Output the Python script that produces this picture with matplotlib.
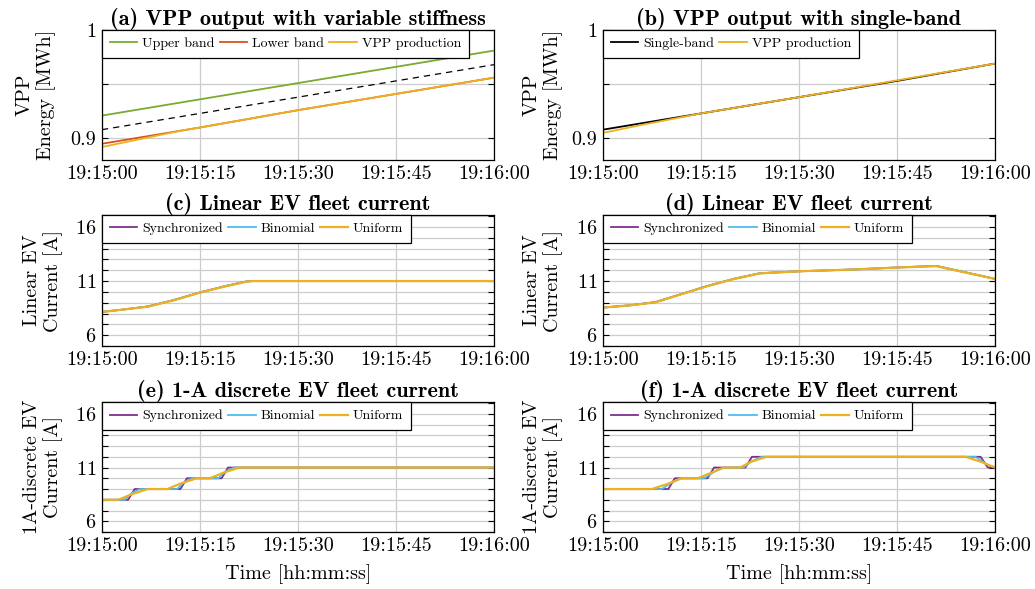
import matplotlib
matplotlib.use("Agg")
import matplotlib.pyplot as plt
from matplotlib.ticker import MultipleLocator

plt.rcParams['font.family'] = 'serif'
plt.rcParams['font.serif'] = ['cmr10']
plt.rcParams['mathtext.fontset'] = 'cm'
plt.rcParams['axes.unicode_minus'] = False
plt.rcParams['axes.formatter.use_mathtext'] = True

# colours (MATLAB default palette)
C_GREEN = '#77AC30'
C_RED = '#D95319'
C_ORANGE = '#EDB120'
C_PURPLE = '#7E2F8E'
C_BLUE = '#4DBEEE'

# time axis: seconds after 19:15:00
time_ticks = [0, 15, 30, 45, 60]
time_labels = ['19:15:00', '19:15:15', '19:15:30', '19:15:45', '19:16:00']

# ---- (a) variable stiffness bands [MWh]
t_vpp = [0, 15, 30, 45, 60]
upper_band = [0.921, 0.936, 0.951, 0.966, 0.981]
reference_a = [0.908, 0.923, 0.938, 0.953, 0.968]
lower_band = [0.895, 0.910, 0.926, 0.941, 0.956]
t_vpp_a = [0, 6, 12, 15, 30, 45, 60]
vpp_a = [0.892, 0.8995, 0.907, 0.910, 0.926, 0.941, 0.956]

# ---- (b) single band [MWh]
single_band = [0.908, 0.923, 0.938, 0.953, 0.969]
t_vpp_b = [0, 6, 12, 15, 30, 45, 60]
vpp_b = [0.905, 0.9125, 0.9195, 0.923, 0.938, 0.9535, 0.969]

# ---- (c) linear EV fleet current [A]
t_lin_c = [0, 3, 7, 11, 15, 19, 22, 23, 60]
sync_c = [8.15, 8.35, 8.65, 9.25, 9.95, 10.55, 10.95, 11.0, 11.0]
binom_c = [8.15, 8.35, 8.65, 9.25, 9.95, 10.55, 10.95, 11.0, 11.0]
unif_c = [8.15, 8.35, 8.63, 9.22, 9.93, 10.52, 10.92, 11.0, 11.0]

# ---- (d) linear EV fleet current [A]
t_lin_d = [0, 4, 8, 12, 16, 20, 24, 30, 38, 45, 51, 60]
sync_d = [8.55, 8.75, 9.05, 9.8, 10.55, 11.2, 11.72, 11.9, 12.06, 12.25, 12.4, 11.2]
binom_d = [8.55, 8.75, 9.05, 9.8, 10.55, 11.2, 11.72, 11.9, 12.06, 12.25, 12.4, 11.2]
unif_d = [8.55, 8.75, 9.03, 9.78, 10.53, 11.18, 11.7, 11.9, 12.06, 12.25, 12.37, 11.2]

# ---- (e) 1-A discrete EV fleet current [A]
t_sync_e = [0, 4, 5, 12, 13, 18.3, 19.3, 60]
sync_e = [8, 8, 9, 9, 10, 10, 11, 11]
t_binom_e = [0, 3.5, 4.5, 5.8, 11.5, 12.5, 13.8, 17.8, 18.8, 20.2, 60]
binom_e = [8, 8, 8.6, 9, 9, 9.6, 10, 10, 10.6, 11, 11]
t_unif_e = [0, 2.5, 4.5, 7, 10, 12, 14.5, 16.5, 18.5, 21, 60]
unif_e = [8, 8, 8.5, 9, 9, 9.5, 10, 10, 10.5, 11, 11]

# ---- (f) 1-A discrete EV fleet current [A]
t_sync_f = [0, 10, 11, 16, 17, 21.8, 22.8, 57.8, 58.9, 60]
sync_f = [9, 9, 10, 10, 11, 11, 12, 12, 11, 11]
t_binom_f = [0, 9, 10.5, 12, 15.5, 17, 18.5, 21.5, 22.8, 24.3, 57, 59, 60]
binom_f = [9, 9, 9.6, 10, 10, 10.6, 11, 11, 11.6, 12, 12, 11.2, 11]
t_unif_f = [0, 7.5, 10, 12, 14.5, 16.5, 18.5, 21, 22.5, 25, 55.5, 58, 60]
unif_f = [9, 9, 9.5, 10, 10, 10.5, 11, 11, 11.5, 12, 12, 11.5, 11]

W, H = 1035, 589
fig = plt.figure(figsize=(W / 100, H / 100), dpi=100)


def make_axes(x0, y0, x1, y1):
    return fig.add_axes([x0 / W, 1 - y1 / H, (x1 - x0) / W, (y1 - y0) / H])


def style(ax, title, ylabel, label_x):
    ax.set_xlim(0, 60)
    ax.set_xticks(time_ticks)
    ax.set_xticklabels(time_labels)
    ax.grid(True, which='both', color='#cccccc', linewidth=0.9)
    ax.set_axisbelow(True)
    ax.tick_params(axis='both', which='both', direction='in', labelsize=14.5,
                   right=True, length=4, width=0.8, color='black', pad=4)
    ax.tick_params(axis='x', which='both', length=0)
    for s in ax.spines.values():
        s.set_linewidth(0.9)
    ax.set_title(title, fontfamily='cmb10', fontsize=16, pad=3)
    ax.set_ylabel(ylabel, fontsize=14.5, linespacing=1.15)
    ax.yaxis.set_label_coords(label_x, 0.5)


def legend(ax):
    leg = ax.legend(loc='upper left', ncol=3, fontsize=10, frameon=True,
                    fancybox=False, framealpha=1, edgecolor='black',
                    borderaxespad=0, handlelength=2.0, handletextpad=0.35,
                    columnspacing=0.35, borderpad=0.55)
    leg.get_frame().set_linewidth(0.9)


LW = 1.3

# (a)
ax = make_axes(102, 30, 494, 160)
ax.plot(t_vpp, upper_band, color=C_GREEN, lw=LW, label='Upper band')
ax.plot(t_vpp, lower_band, color=C_RED, lw=LW, label='Lower band')
ax.plot(t_vpp_a, vpp_a, color=C_ORANGE, lw=LW, label='VPP production')
ax.plot(t_vpp, reference_a, color='black', lw=0.9, ls=(0, (5, 4)))
ax.set_ylim(0.88, 1.0)
ax.set_yticks([0.9, 1.0])
ax.set_yticklabels(['0.9', '1'])
ax.yaxis.set_minor_locator(MultipleLocator(0.05))
style(ax, '(a) VPP output with variable stiffness', 'VPP\nEnergy [MWh]', -0.118)
legend(ax)

# (b)
ax = make_axes(603, 30, 995, 160)
ax.plot(t_vpp, single_band, color='black', lw=LW, label='Single-band')
ax.plot(t_vpp_b, vpp_b, color=C_ORANGE, lw=LW, label='VPP production')
ax.set_ylim(0.88, 1.0)
ax.set_yticks([0.9, 1.0])
ax.set_yticklabels(['0.9', '1'])
ax.yaxis.set_minor_locator(MultipleLocator(0.05))
style(ax, '(b) VPP output with single-band', 'VPP\nEnergy [MWh]', -0.102)
legend(ax)

current_panels = [
    ((102, 215, 494, 346), '(c) Linear EV fleet current', 'Linear EV\nCurrent [A]', -0.1,
     (t_lin_c, sync_c), (t_lin_c, binom_c), (t_lin_c, unif_c), False),
    ((603, 215, 995, 346), '(d) Linear EV fleet current', 'Linear EV\nCurrent [A]', -0.102,
     (t_lin_d, sync_d), (t_lin_d, binom_d), (t_lin_d, unif_d), False),
    ((102, 402, 494, 532), '(e) 1-A discrete EV fleet current', '1A-discrete EV\nCurrent [A]', -0.1,
     (t_sync_e, sync_e), (t_binom_e, binom_e), (t_unif_e, unif_e), True),
    ((603, 402, 995, 532), '(f) 1-A discrete EV fleet current', '1A-discrete EV\nCurrent [A]', -0.102,
     (t_sync_f, sync_f), (t_binom_f, binom_f), (t_unif_f, unif_f), True),
]

for box, title, ylab, lx, s, b, u, bottom in current_panels:
    ax = make_axes(*box)
    ax.plot(*s, color=C_PURPLE, lw=LW, label='Synchronized')
    ax.plot(*b, color=C_BLUE, lw=LW, label='Binomial')
    ax.plot(*u, color=C_ORANGE, lw=LW + 0.3, label='Uniform')
    ax.set_ylim(5, 17.1)
    ax.set_yticks([6, 11, 16])
    ax.yaxis.set_minor_locator(MultipleLocator(1))
    style(ax, title, ylab, lx)
    legend(ax)
    if bottom:
        ax.set_xlabel('Time [hh:mm:ss]', fontsize=14.5, labelpad=6)

fig.savefig('out.png', dpi=100)
